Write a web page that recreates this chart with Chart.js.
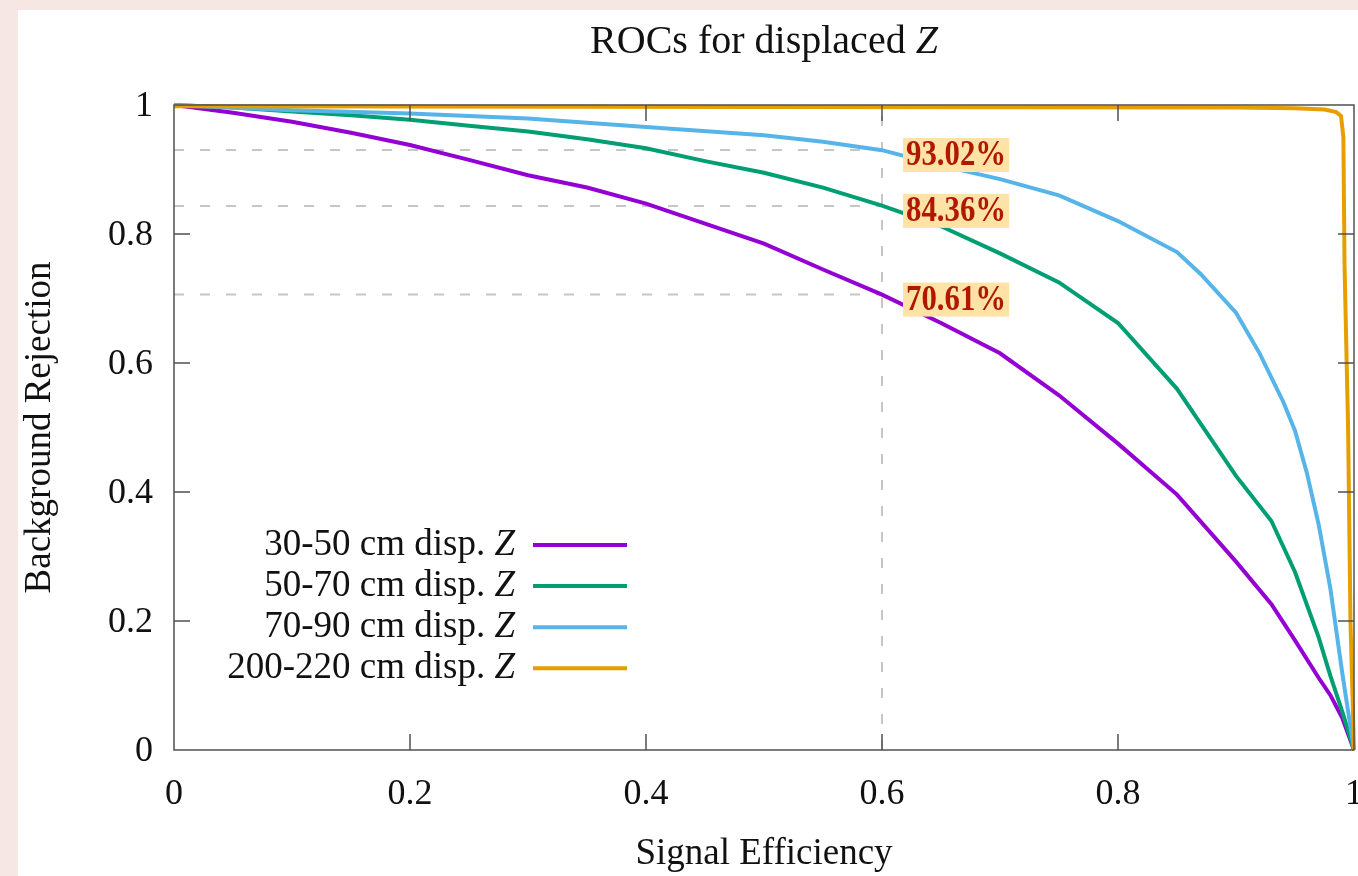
<!DOCTYPE html>
<html lang="en">
<head>
<meta charset="UTF-8">
<title>ROCs for displaced Z</title>
<script src="https://cdn.jsdelivr.net/npm/chart.js"></script>
<style>
  html, body { margin: 0; padding: 0; background: #f6e7e5; overflow: hidden; }
  .chart-box { position: absolute; left: 18px; top: 10px; width: 1370px; height: 866px; background: #fff; }
</style>
</head>
<body>
<div class="chart-box"><canvas id="roc" width="1370" height="866"></canvas></div>
<script>
// values (signal efficiency -> background rejection)
const sigEff3050 = [0, 0.05, 0.1, 0.15, 0.2, 0.25, 0.3, 0.35, 0.4, 0.45, 0.5, 0.55, 0.6, 0.65, 0.7, 0.75, 0.8, 0.85, 0.9, 0.93, 0.95, 0.97, 0.98, 0.99, 1.0];
const bkgRej3050 = [1.0, 0.988, 0.974, 0.957, 0.938, 0.915, 0.891, 0.872, 0.847, 0.816, 0.785, 0.745, 0.706, 0.662, 0.615, 0.550, 0.475, 0.396, 0.292, 0.226, 0.170, 0.112, 0.085, 0.050, 0];

const sigEff5070 = [0, 0.05, 0.1, 0.15, 0.2, 0.25, 0.3, 0.35, 0.4, 0.45, 0.5, 0.55, 0.6, 0.65, 0.7, 0.75, 0.8, 0.85, 0.9, 0.93, 0.95, 0.97, 0.98, 0.99, 1.0];
const bkgRej5070 = [1.0, 0.996, 0.990, 0.984, 0.977, 0.968, 0.959, 0.947, 0.933, 0.913, 0.895, 0.872, 0.844, 0.812, 0.770, 0.725, 0.662, 0.560, 0.425, 0.355, 0.276, 0.175, 0.115, 0.060, 0];

const sigEff7090 = [0, 0.1, 0.2, 0.3, 0.4, 0.5, 0.55, 0.6, 0.65, 0.7, 0.75, 0.8, 0.85, 0.87, 0.9, 0.92, 0.94, 0.95, 0.96, 0.97, 0.98, 0.99, 1.0];
const bkgRej7090 = [1.0, 0.992, 0.987, 0.979, 0.966, 0.953, 0.943, 0.930, 0.906, 0.885, 0.860, 0.820, 0.772, 0.738, 0.678, 0.615, 0.540, 0.495, 0.430, 0.350, 0.250, 0.120, 0];

const sigEff200220 = [0, 0.5, 0.9, 0.95, 0.975, 0.985, 0.989, 0.991, 0.992, 0.995, 0.997, 1.0];
const bkgRej200220 = [0.998, 0.997, 0.996, 0.995, 0.993, 0.989, 0.983, 0.950, 0.750, 0.500, 0.200, 0];

const seriesLabels = ['30-50 cm disp. Z', '50-70 cm disp. Z', '70-90 cm disp. Z', '200-220 cm disp. Z'];

// working point marked with dashed guides
const workingPoint = 0.6;
const markedRejections = [0.9302, 0.8436, 0.7061];
const markedLabels = ['93.02%', '84.36%', '70.61%'];

const axisTicks = [0, 0.2, 0.4, 0.6, 0.8, 1];

const SERIF = '"Liberation Serif", "DejaVu Serif", serif';
const toPoints = (xs, ys) => xs.map((x, i) => ({ x: x, y: ys[i] }));

const curves = [
    { eff: sigEff3050, rej: bkgRej3050, color: '#9400d3' },
    { eff: sigEff5070, rej: bkgRej5070, color: '#009e73' },
    { eff: sigEff7090, rej: bkgRej7090, color: '#56b4e9' },
    { eff: sigEff200220, rej: bkgRej200220, color: '#e69f00' }
];

const curveSets = curves.map((c, i) => ({
    label: seriesLabels[i],
    data: toPoints(c.eff, c.rej),
    borderColor: c.color,
    backgroundColor: c.color,
    borderWidth: 4,
    pointRadius: 0,
    tension: 0,
    fill: false,
    clip: false,
    order: 4 - i,
    isCurve: true
}));

const guideStyle = { borderColor: '#c6c6c6', borderWidth: 2, borderDash: [10, 16], pointRadius: 0, fill: false, order: 10 };
const guideSets = markedRejections.map(r => Object.assign({
    data: [{ x: 0, y: r }, { x: workingPoint, y: r }]
}, guideStyle));
guideSets.push(Object.assign({ data: [{ x: workingPoint, y: 0 }, { x: workingPoint, y: 1 }] }, guideStyle));

// gnuplot look: closed frame, inward ticks, key, title, boxed labels
const gnuplotDecor = {
    id: 'gnuplotDecor',
    afterDatasetsDraw(chart) {
        const ctx = chart.ctx;
        const a = chart.chartArea;
        const xs = chart.scales.x, ys = chart.scales.y;
        ctx.save();
        ctx.strokeStyle = '#505050';
        ctx.lineWidth = 1.5;
        ctx.strokeRect(a.left, a.top, a.right - a.left, a.bottom - a.top);
        const tl = 16;
        ctx.beginPath();
        axisTicks.forEach(v => {
            if (v === 0 || v === 1) return;
            const px = xs.getPixelForValue(v);
            ctx.moveTo(px, a.bottom); ctx.lineTo(px, a.bottom - tl);
            ctx.moveTo(px, a.top); ctx.lineTo(px, a.top + tl);
            const py = ys.getPixelForValue(v);
            ctx.moveTo(a.left, py); ctx.lineTo(a.left + tl, py);
            ctx.moveTo(a.right, py); ctx.lineTo(a.right - tl, py);
        });
        ctx.stroke();

        // percentage labels at the working point (narrow bold face)
        ctx.font = 'bold 35px ' + SERIF;
        ctx.textBaseline = 'middle';
        ctx.textAlign = 'left';
        markedRejections.forEach((r, i) => {
            const px = xs.getPixelForValue(workingPoint) + 21;
            const py = ys.getPixelForValue(r) + 5;
            const w = ctx.measureText(markedLabels[i]).width * 0.88;
            ctx.fillStyle = '#fee2a6';
            ctx.fillRect(px, py - 17, w + 6, 34);
            ctx.save();
            ctx.translate(px + 3, py + 1);
            ctx.scale(0.88, 1);
            ctx.fillStyle = '#b01800';
            ctx.fillText(markedLabels[i], 0, 0);
            ctx.restore();
        });
        ctx.restore();
    },
    afterDraw(chart) {
        const ctx = chart.ctx;
        const a = chart.chartArea;
        ctx.save();
        ctx.fillStyle = '#111';
        ctx.textBaseline = 'middle';

        // title with italic Z
        const head = 'ROCs for displaced ';
        ctx.font = '40px ' + SERIF;
        const wHead = ctx.measureText(head).width;
        ctx.font = 'italic 40px ' + SERIF;
        const wZ = ctx.measureText('Z').width;
        const x0 = (a.left + a.right) / 2 - (wHead + wZ) / 2;
        ctx.textAlign = 'left';
        ctx.font = '40px ' + SERIF;
        ctx.fillText(head, x0, 32);
        ctx.font = 'italic 40px ' + SERIF;
        ctx.fillText('Z', x0 + wHead, 32);

        // key: right-aligned text, sample line to its right
        const keyRight = 497, lineL = 515, lineR = 609;
        chart.data.datasets.filter(d => d.isCurve).forEach((d, i) => {
            const y = 535 + i * 41.1;
            const body = d.label.slice(0, -1);
            ctx.font = 'italic 37px ' + SERIF;
            const zw = ctx.measureText('Z').width;
            ctx.textAlign = 'right';
            ctx.fillText('Z', keyRight, y);
            ctx.font = '37px ' + SERIF;
            ctx.fillText(body, keyRight - zw, y);
            ctx.strokeStyle = d.borderColor;
            ctx.lineWidth = 4;
            ctx.beginPath();
            ctx.moveTo(lineL, y);
            ctx.lineTo(lineR, y);
            ctx.stroke();
        });
        ctx.restore();
    }
};

const ctx = document.getElementById('roc').getContext('2d');
const rocChart = new Chart(ctx, {
    type: 'line',
    data: { datasets: curveSets.concat(guideSets) },
    options: {
        responsive: false,
        animation: false,
        layout: { padding: { top: 95, right: 34, bottom: 0, left: 0 } },
        plugins: {
            legend: { display: false },
            title: { display: false },
            tooltip: { enabled: false }
        },
        scales: {
            x: {
                type: 'linear',
                min: 0,
                max: 1,
                afterBuildTicks: s => { s.ticks = axisTicks.map(v => ({ value: v })); },
                afterFit: s => { s.height = 126; },
                grid: { display: false, drawTicks: false },
                border: { display: false },
                ticks: {
                    padding: 23,
                    color: '#111',
                    font: { family: SERIF, size: 36 },
                    maxRotation: 0,
                    callback: v => String(Math.round(v * 10) / 10)
                },
                title: {
                    display: true,
                    text: 'Signal Efficiency',
                    color: '#111',
                    font: { family: SERIF, size: 37 },
                    padding: { top: 0, bottom: 0 }
                }
            },
            y: {
                type: 'linear',
                min: 0,
                max: 1,
                afterBuildTicks: s => { s.ticks = axisTicks.map(v => ({ value: v })); },
                afterFit: s => { s.width = 156; },
                grid: { display: false, drawTicks: false },
                border: { display: false },
                ticks: {
                    padding: 21,
                    labelOffset: 2,
                    color: '#111',
                    font: { family: SERIF, size: 36 },
                    callback: v => String(Math.round(v * 10) / 10)
                },
                title: {
                    display: true,
                    text: 'Background Rejection',
                    color: '#111',
                    font: { family: SERIF, size: 37 },
                    padding: { top: 0, bottom: 0 }
                }
            }
        }
    },
    plugins: [gnuplotDecor]
});
</script>
</body>
</html>
